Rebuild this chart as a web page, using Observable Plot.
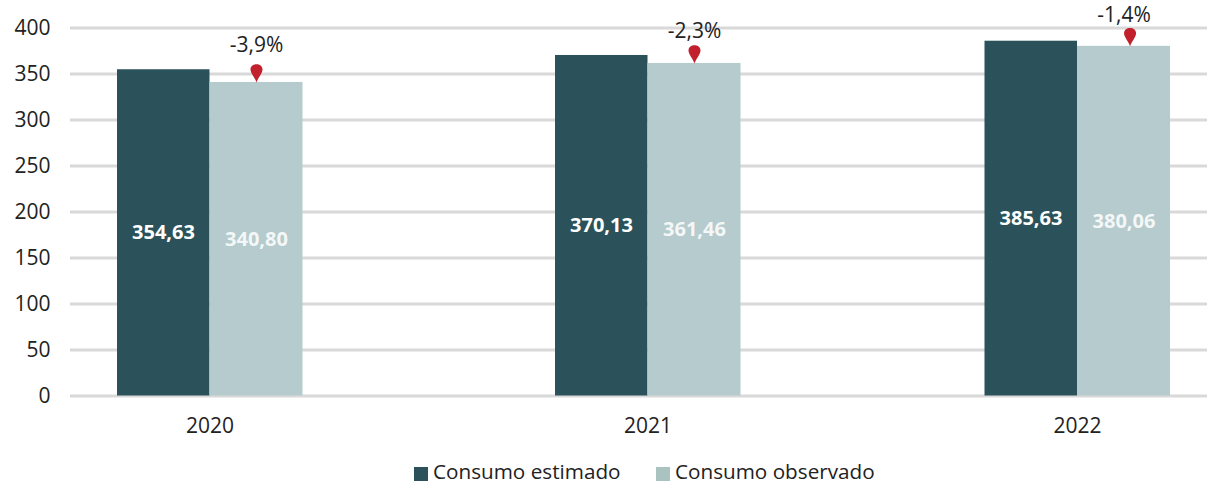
<!DOCTYPE html>
<html><head><meta charset="utf-8">
<script src="https://cdn.jsdelivr.net/npm/d3@7"></script>
<script src="https://cdn.jsdelivr.net/npm/@observablehq/plot@0.6"></script>
<style>
html,body{margin:0;padding:0;background:#fff;overflow:hidden}
#legend{position:absolute;top:459px;left:0;width:1215px;height:24px;font:20.7px "Open Sans",sans-serif;color:#222}
#legend span{position:absolute;top:1px;white-space:nowrap;line-height:22px}
#legend i{position:absolute;top:8px;width:14px;height:14px}
</style></head><body>
<div id="chart"></div>
<div id="legend"></div>
<script>
const years = [2020, 2021, 2022];
const estimated = [354.63, 370.13, 385.63];
const observed = [340.80, 361.46, 380.06];
const deltas = ["-3,9%", "-2,3%", "-1,4%"];
const deltaHeights = [381, 396.5, 414];
const pinYears = [2020, 2021, 2022.014];
const seriesNames = ["Consumo estimado", "Consumo observado"];
const barColors = ["#2b525a", "#b5cbcd"];
const legendColors = ["#2b525a", "#a9c4c0"];
const yTicks = [0, 50, 100, 150, 200, 250, 300, 350, 400];

const fmt = v => v.toFixed(2).replace(".", ",");
const rows = years.map((year, i) => ({year, est: estimated[i], obs: observed[i], delta: deltas[i], deltaY: deltaHeights[i], pinX: pinYears[i]}));
const font = '"Open Sans", sans-serif';
const pin = {draw(c) {
  c.moveTo(0, 0);
  c.bezierCurveTo(-1.5, -5, -6, -9, -6, -13);
  c.bezierCurveTo(-6, -20, 6, -20, 6, -13);
  c.bezierCurveTo(6, -9, 1.5, -5, 0, 0);
  c.closePath();
}};

const plot = Plot.plot({
  width: 1215, height: 450,
  marginLeft: 70, marginRight: 8, marginTop: 20, marginBottom: 54,
  style: {fontFamily: font, fontSize: "21px", color: "#222", background: "#fff"},
  x: {type: "linear", domain: [2019.68, 2020, 2021, 2022, 2022.3], range: [70, 209.5, 647.5, 1077, 1207], axis: null},
  y: {domain: [0, 400], range: [395.5, 27.5], axis: null},
  marks: [
    Plot.ruleY(yTicks, {stroke: "#d9d9d9", strokeWidth: 3}),
    Plot.rect(rows, {x1: "year", x2: "year", y1: 0, y2: "est", fill: barColors[0], insetLeft: -92.5}),
    Plot.rect(rows, {x1: "year", x2: "year", y1: 0, y2: "obs", fill: barColors[1], insetRight: -93}),
    Plot.axisY({ticks: yTicks, tickSize: 0, tickPadding: 0, label: null, anchor: "left", dx: -20, fontSize: 21}),
    Plot.axisX({ticks: years, tickFormat: d => String(d), tickSize: 0, label: null, anchor: "bottom", fontSize: 21, dy: 13}),
    Plot.text(rows, {x: "year", y: d => d.est / 2, text: d => fmt(d.est), dx: -46.5, fill: "#fff", fontWeight: 700, fontSize: 20}),
    Plot.text(rows, {x: "year", y: d => d.obs / 2, text: d => fmt(d.obs), dx: 46.5, fill: "#f4f7f7", fontWeight: 700, fontSize: 20}),
    Plot.dot(rows, {x: "pinX", y: "obs", dx: 46.5, symbol: pin, fill: "#c1202c", r: 5}),
    Plot.text(rows, {x: "year", y: "deltaY", text: "delta", dx: 46.5, fontSize: 21, fill: "#222"})
  ]
});
document.getElementById("chart").appendChild(plot);

const legend = document.getElementById("legend");
const swatchX = [414, 656], labelX = [433, 675];
seriesNames.forEach((name, i) => {
  const sw = document.createElement("i");
  sw.style.left = swatchX[i] + "px"; sw.style.background = legendColors[i];
  const t = document.createElement("span");
  t.style.left = labelX[i] + "px"; t.textContent = name;
  legend.append(sw, t);
});
</script></body></html>
